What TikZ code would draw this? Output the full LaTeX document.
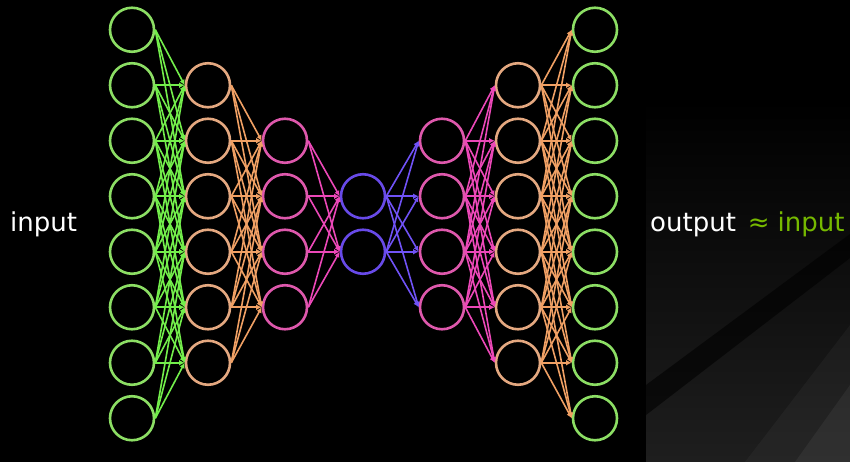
\documentclass[tikz,border=0pt]{standalone}
\usepackage{fontspec}
\setmainfont{DejaVu Sans}
\usepackage{tikz}
\usetikzlibrary{arrows.meta}
\definecolor{nvgreen}{RGB}{118, 185, 0}
\definecolor{ringgreen}{RGB}{140, 222, 100}
\definecolor{wiregreen}{RGB}{115, 238, 75}
\definecolor{ringorange}{RGB}{228, 168, 128}
\definecolor{wireorange}{RGB}{240, 160, 100}
\definecolor{ringpink}{RGB}{222, 88, 172}
\definecolor{wirepink}{RGB}{236, 72, 184}
\definecolor{ringviolet}{RGB}{104, 74, 232}
\definecolor{wireviolet}{RGB}{112, 82, 246}
\definecolor{panel}{RGB}{30, 30, 30}

\begin{document}
\begin{tikzpicture}[x=1pt, y=-1pt,
    neuron/.style={circle, draw=#1, line width=2.6pt, minimum size=44pt, inner sep=0pt},
    link/.style={draw=#1, line width=1.6pt, -{Latex[length=5.5pt,width=5.5pt]}}]
    % Background
    \fill[black] (0,0) rectangle (850,462);
    \useasboundingbox (0,0) rectangle (850,462);
    \shade[top color=black, bottom color=panel] (646,100) rectangle (850,462);
    \fill[black, opacity=0.6] (646,385) -- (850,234) -- (850,258) -- (646,415) -- cycle;
    \fill[white, opacity=0.035] (745,462) -- (850,325) -- (850,462) -- cycle;
    \fill[white, opacity=0.05] (795,462) -- (850,385) -- (850,462) -- cycle;
    
    % Layers
    \foreach \n in {1,...,8} {
        \node[neuron=ringgreen] (in\n) at (132, {224 + (\n - 4.5)*55.5}) {};
        \node[neuron=ringgreen] (out\n) at (595, {224 + (\n - 4.5)*55.5}) {};
    }
    \foreach \n in {1,...,6} {
        \node[neuron=ringorange] (encA\n) at (208, {224 + (\n - 3.5)*55.5}) {};
        \node[neuron=ringorange] (decA\n) at (518, {224 + (\n - 3.5)*55.5}) {};
    }
    \foreach \n in {1,...,4} {
        \node[neuron=ringpink] (encB\n) at (285, {224 + (\n - 2.5)*55.5}) {};
        \node[neuron=ringpink] (decB\n) at (442, {224 + (\n - 2.5)*55.5}) {};
    }
    \foreach \n in {1,2}
        \node[neuron=ringviolet] (code\n) at (363, {224 + (\n - 1.5)*55.5}) {};
    
    % Connections (sender colour), each node to its near neighbours
    \foreach \i in {1,...,8}
        \foreach \j in {1,...,6} {
            \pgfmathtruncatemacro{\gap}{abs(\i-\j-1)}
            \ifnum\gap<4 \draw[link=wiregreen] (in\i.east) -- (encA\j.west); \fi
        }
    \foreach \i in {1,...,6}
        \foreach \j in {1,...,4} {
            \pgfmathtruncatemacro{\gap}{abs(\i-\j-1)}
            \ifnum\gap<4 \draw[link=wireorange] (encA\i.east) -- (encB\j.west); \fi
        }
    \foreach \i in {1,...,4}
        \foreach \j in {1,2}
            \draw[link=wirepink] (encB\i.east) -- (code\j.west);
    \foreach \i in {1,2}
        \foreach \j in {1,...,4}
            \draw[link=wireviolet] (code\i.east) -- (decB\j.west);
    \foreach \i in {1,...,4}
        \foreach \j in {1,...,6} {
            \pgfmathtruncatemacro{\gap}{abs(\j-\i-1)}
            \ifnum\gap<4 \draw[link=wirepink] (decB\i.east) -- (decA\j.west); \fi
        }
    \foreach \i in {1,...,6}
        \foreach \j in {1,...,8} {
            \pgfmathtruncatemacro{\gap}{abs(\j-\i-1)}
            \ifnum\gap<4 \draw[link=wireorange] (decA\i.east) -- (out\j.west); \fi
        }
    
    % Labels
    \node[white, font=\fontsize{26}{30}\selectfont, anchor=base west, inner sep=0pt] (inlabel) at (10,231) {input};
    \node[anchor=base west, inner sep=0pt, font=\fontsize{26}{30}\selectfont] (outlabel) at (650,232)
        {\textcolor{white}{output}\hspace{12pt}\textcolor{nvgreen}{≈\hspace{8pt}input}};
\end{tikzpicture}
\end{document}
